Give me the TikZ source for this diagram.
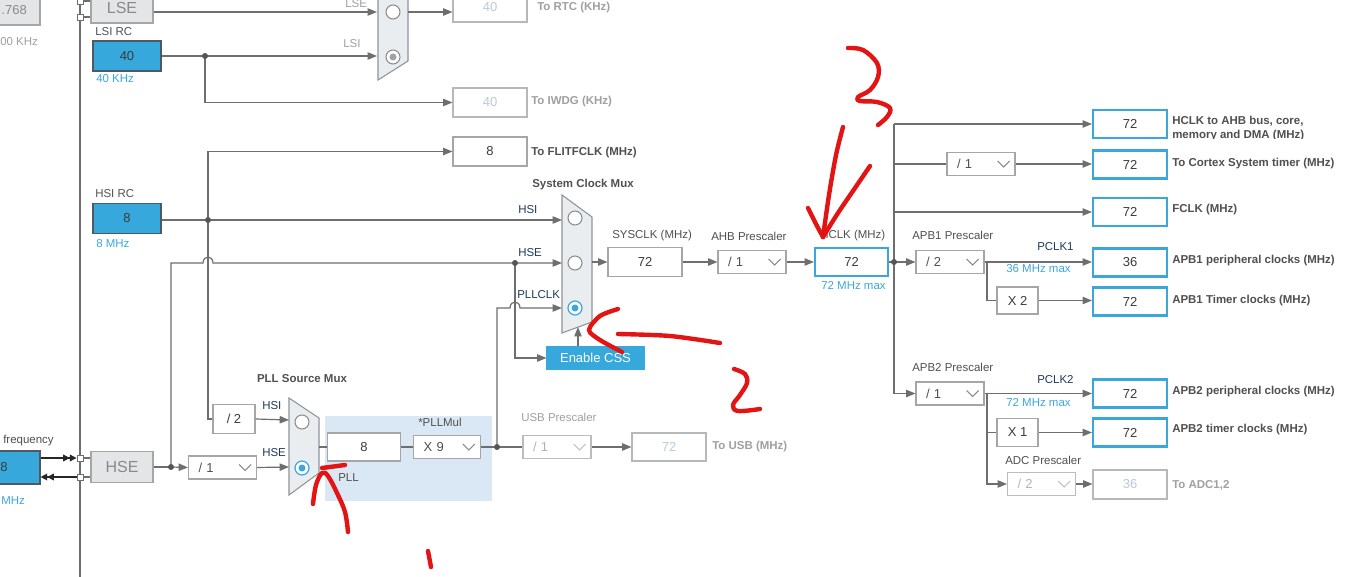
\documentclass[tikz,border=0pt]{standalone}
\usepackage{fontspec}
\setmainfont{Liberation Sans}
\usetikzlibrary{arrows.meta,calc}
\definecolor{wirec}{HTML}{6E6E6E}
\definecolor{boxc}{HTML}{A6A6A6}
\definecolor{valc}{HTML}{3C3C3C}
\definecolor{labc}{HTML}{505050}
\definecolor{navyc}{HTML}{1F3A5C}
\definecolor{disc}{HTML}{A0A0A0}
\definecolor{disval}{HTML}{B8CADC}
\definecolor{bluet}{HTML}{3AA8DF}
\definecolor{bluef}{HTML}{36A8DC}
\definecolor{blueb}{HTML}{3BA6DA}
\definecolor{rcb}{HTML}{4D5A63}
\definecolor{muxf}{HTML}{E9EDF0}
\definecolor{muxb}{HTML}{8E959A}
\definecolor{grayf}{HTML}{E3E5E6}
\definecolor{grayt}{HTML}{8A8A8A}
\definecolor{pllf}{HTML}{DAE7F4}
\definecolor{redc}{HTML}{E31414}
\definecolor{dotc}{HTML}{555555}
\definecolor{chevc}{HTML}{8A8A8A}
\definecolor{chevd}{HTML}{C4C4C4}
\newcommand\lblfont{\fontsize{8.6pt}{10pt}\selectfont}
\newcommand\valfont{\fontsize{9.75pt}{11pt}\selectfont}
\newcommand\bigfont{\fontsize{12pt}{14pt}\selectfont}
\newcommand\chev[2][chevc]{\draw[draw=#1,line width=0.8pt] ([shift={(-18,-3)}]#2.east) -- ++(6,6) -- ++(6,-6);}
\begin{document}
\begin{tikzpicture}[x=0.75pt,y=-0.75pt,
  wire/.style={draw=wirec,line width=0.9pt},
  arr/.style={wire,-{Triangle[length=7pt,width=5.5pt]}},
  dbl/.style={draw=black!85,line width=0.9pt,-{Triangle[length=5pt,width=5pt]Triangle[length=5pt,width=5pt]}},
  sz/.style 2 args={minimum width=#1*0.75pt,minimum height=#2*0.75pt},
  box/.style={draw=boxc,fill=white,line width=0.8pt,inner sep=0pt,font=\valfont,text=valc},
  dbox/.style={box,draw=boxc!80,text=disval},
  bbox/.style={box,draw=blueb,line width=1.6pt},
  rcbox/.style={box,fill=bluef,draw=rcb},
  gbox/.style={box,fill=grayf,text=grayt,font=\bigfont},
  dd/.style={box,text=labc,text width=36pt,inner xsep=7.5pt,align=left,minimum height=17.25pt},
  ddd/.style={dd,draw=boxc!75,text=disc!80},
  sq/.style={draw=wirec,fill=white,line width=0.7pt,minimum size=4.5pt,inner sep=0pt},
  lab/.style={inner sep=0pt,font=\lblfont,text=labc,anchor=west},
  blab/.style={lab,font=\lblfont\bfseries},
  nlab/.style={lab,text=navyc},
  dlab/.style={lab,text=disc},
  dblab/.style={blab,text=disc},
  btext/.style={lab,text=bluet},
  mux/.style={fill=muxf,draw=muxb,line width=0.8pt},
  rad/.style={draw=grayt,fill=white,line width=0.8pt},
  radb/.style={draw=bluet,fill=white,line width=0.9pt},
  pen/.style={draw=redc,line width=3.3pt,line cap=round,line join=round}]
\clip (0,0) rectangle (1353,577);
\fill[white] (0,0) rectangle (1353,577);

% ---------- left edge ----------
\draw[fill=grayf,draw=boxc,line width=0.8pt] (-30,-5) rectangle (40,25);
\node[lab,font=\valfont,text=grayt,anchor=east] (lsein) at (27,10) {.768};
\node[lab,text=disc] (lserange) at (0,42) {00 KHz};
\draw[wire] (80,-5) -- (80,582);
\node[sq] (sq3) at (80,1) {};
\node[sq] (sq4) at (80,17) {};
\node[gbox,sz={62}{30}] (lse) at (122,8) {LSE};
\draw[wire] (sq3.east) -- (sq3.east -| lse.west);
\draw[wire] (sq4.east) -- (sq4.east -| lse.west);

% ---------- LSI / RTC ----------
\node[lab] (lsilab) at (95,32) {LSI RC};
\node[rcbox,sz={68}{30}] (lsi) at (127,56) {40};
\node[btext] (lsif) at (96,79) {40 KHz};
\draw[mux] (378,-30) -- (408,-10) -- (408,61) -- (378,80) -- cycle;
\draw[rad] (393,12) circle[radius=7];
\draw[rad] (393,57) circle[radius=7];
\fill[grayt!80] (393,57) circle[radius=3.5];
\coordinate (rtcin1) at (377,12);
\coordinate (rtcin2) at (377,56);
\coordinate (rtcout) at (408,12);
\coordinate (lsidot) at (205,56);
\node[dlab] (lselab) at (345,4) {LSE};
\node[dlab] (lsilab2) at (343,44) {LSI};
\node[dbox,sz={74}{30}] (rtc) at (490,7) {40};
\node[dblab] (rtclab) at (537,8) {To RTC (KHz)};
\node[dbox,sz={74}{29}] (iwdg) at (490,102.5) {40};
\node[dblab] (iwdglab) at (531,102) {To IWDG (KHz)};
\draw[arr] (lse.east |- rtcin1) -- (rtcin1);
\draw[arr] (lsi.east) -- (rtcin2);
\draw[arr] (lsidot) |- (iwdg.west);
\draw[arr] (rtcout) -- (rtcout -| rtc.west);
\fill[dotc] (lsidot) circle[radius=3];

% ---------- HSI / FLITFCLK ----------
\node[box,sz={74}{29}] (flit) at (490,151.5) {8};
\node[blab] (flitlab) at (531,153) {To FLITFCLK (MHz)};
\node[lab] (hsilab) at (95,194) {HSI RC};
\node[rcbox,sz={68}{30}] (hsi) at (127,218.5) {8};
\node[btext] (hsif) at (96,244) {8 MHz};
\coordinate (hsidot) at (208,220);

% ---------- System clock mux ----------
\node[blab,anchor=center] (smtitle) at (583,185) {System Clock Mux};
\draw[mux] (562,195) -- (592,217) -- (592,322) -- (562,333) -- cycle;
\draw[rad] (575,218) circle[radius=7];
\draw[rad] (575,263) circle[radius=7];
\draw[radb] (575,308) circle[radius=7];
\fill[bluet] (575,308) circle[radius=3.5];
\coordinate (smin1) at (562,220);
\coordinate (smin2) at (562,263);
\coordinate (smin3) at (562,308);
\coordinate (smout) at (592,262);
\coordinate (smbot) at (578,327);
\coordinate (ssedot) at (515,263);
\node[nlab] (l1) at (518,210) {HSI};
\node[nlab] (l2) at (518,253) {HSE};
\node[nlab] (l3) at (517,295) {PLLCLK};
\node[box,fill=bluef,draw=bluef,text=white,sz={97}{22},font=\valfont] (css) at (595.5,358) {Enable CSS};

\node[lab] (sysl) at (612,236) {SYSCLK (MHz)};
\node[box,sz={74}{29}] (sysclk) at (645,262) {72};
\node[lab] (ahbl) at (711,236) {AHB Prescaler};
\node[dd] (ahb) at (752,262) {/ 1};
\chev{ahb}
\node[lab] (hclkl) at (820,236) {HCLK (MHz)};
\node[bbox,sz={73}{28}] (hclk) at (851.5,262) {72};
\node[btext] (hclkm) at (821,286) {72 MHz max};
\coordinate (hdot) at (894,262);

% ---------- right block ----------
\node[bbox,sz={74}{28}] (o1) at (1130,124) {72};
\begin{scope}
\clip (1168,100) rectangle (1353,139);
\node[blab] (o1l1) at (1172,121) {HCLK to AHB bus, core,};
\node[blab] (o1l2) at (1172,136) {memory and DMA (MHz)};
\end{scope}
\node[dd] (cdd) at (981,164) {/ 1};
\chev{cdd}
\node[bbox,sz={74}{28}] (o2) at (1130,164.5) {72};
\node[blab] (o2l) at (1172,164) {To Cortex System timer (MHz)};
\node[bbox,sz={74}{28}] (o3) at (1130,212) {72};
\node[blab] (o3l) at (1172,210) {FCLK (MHz)};
\node[lab] (apb1l) at (912,235) {APB1 Prescaler};
\node[dd] (apb1) at (950,262) {/ 2};
\chev{apb1}
\node[nlab] (pc1) at (1037,247) {PCLK1};
\node[btext] (pc1m) at (1006,269) {36 MHz max};
\node[bbox,sz={74}{28}] (o4) at (1130,262.5) {36};
\node[blab] (o4l) at (1172,261) {APB1 peripheral clocks (MHz)};
\node[box,sz={41}{27}] (x2) at (1017.5,300.5) {X 2};
\node[bbox,sz={74}{28}] (o5) at (1130,301.5) {72};
\node[blab] (o5l) at (1172,301) {APB1 Timer clocks (MHz)};
\coordinate (a1br) at (987,262);

\node[lab] (apb2l) at (912,367) {APB2 Prescaler};
\node[dd] (apb2) at (950,393.5) {/ 1};
\chev{apb2}
\node[nlab] (pc2) at (1037,380) {PCLK2};
\node[btext] (pc2m) at (1006,403) {72 MHz max};
\node[bbox,sz={74}{28}] (o6) at (1130,393.5) {72};
\node[blab] (o6l) at (1172,392) {APB2 peripheral clocks (MHz)};
\node[box,sz={41}{28}] (x1) at (1017.5,432.5) {X 1};
\node[bbox,sz={74}{28}] (o7) at (1130,432.5) {72};
\node[blab] (o7l) at (1172,430) {APB2 timer clocks (MHz)};
\node[lab] (adcl) at (1005,460) {ADC Prescaler};
\node[ddd] (adcdd) at (1041.5,484) {/ 2};
\chev[chevd]{adcdd}
\node[dbox,sz={74}{29}] (adc) at (1130,484.5) {36};
\node[dblab] (adcll) at (1172,485) {To ADC1,2};
\coordinate (a2br) at (987,393.5);

% ---------- PLL ----------
\fill[pllf] (325,416) rectangle (492,501);
\node[blab,anchor=center] (pmtitle) at (302,379) {PLL Source Mux};
\draw[mux] (289,398) -- (319,418) -- (319,473) -- (289,495) -- cycle;
\draw[rad] (302,422) circle[radius=7];
\draw[radb] (302,468) circle[radius=7];
\fill[bluet] (302,468) circle[radius=3.5];
\coordinate (pmin1) at (289,420);
\coordinate (pmin2) at (289,467);
\coordinate (pmout) at (319,447);
\node[box,sz={42}{29}] (div2) at (234,419) {/ 2};
\node[nlab] (ph1) at (262,406) {HSI};
\node[nlab] (ph2) at (262,453) {HSE};
\node[dd] (div1) at (222.5,467.5) {/ 1};
\chev{div1}
\node[box,sz={73}{28}] (pllin) at (364,447) {8};
\node[lab] (pllmull) at (418,422) {*PLLMul};
\node[dd,minimum height=17.25pt,text width=35pt] (mul) at (447,447) {X 9};
\chev{mul}
\node[lab] (plll) at (338,478) {PLL};
\coordinate (plldot) at (497,447);
\node[dlab] (usbl) at (521,417) {USB Prescaler};
\node[ddd] (usbdd) at (557,447) {/ 1};
\chev[chevd]{usbdd}
\node[dbox,sz={74}{28}] (usb) at (669,447) {72};
\node[dblab] (usbll) at (712,447) {To USB (MHz)};

% ---------- HSE input ----------
\node[lab] (inl) at (3,441) {frequency};
\node[rcbox,sz={73}{33}] (inbox) at (3.5,467.5) {};
\node[lab,font=\valfont,text=valc] (inval) at (0,467.5) {8};
\node[btext] (inr) at (1,501) {MHz};
\node[sq] (sq1) at (80,458) {};
\node[sq] (sq2) at (80,477) {};
\node[gbox,sz={62}{31}] (hse) at (122,467) {HSE};
\coordinate (hsedot) at (171,467);
\draw[dbl] (inbox.east |- sq1) -- (sq1.west);
\draw[dbl] (sq2.west) -- (inbox.east |- sq2);
\draw[wire] (sq1.east) -- (sq1.east -| hse.west);
\draw[wire] (sq2.east) -- (sq2.east -| hse.west);

% ---------- connectors ----------
\draw[arr] (hsi.east |- hsidot) -- (smin1);
\draw[arr] (div2.west) -| (hsidot) |- (flit.west);
\draw[arr] (hsedot) |- (203,263) .. controls (203,255) and (213,255) .. (213,263) -- (smin2);
\draw[arr] (plldot) |- (510,308) .. controls (510,300) and (520,300) .. (520,308) -- (smin3);
\draw[arr] (ssedot) |- (css.west);
\draw[arr] (css.north -| smbot) -- (smbot);
\draw[arr] (smout) -- (sysclk.west);
\draw[arr] (sysclk.east) -- (ahb.west);
\draw[arr] (ahb.east) -- (hclk.west);
\draw[wire] (hclk.east) -- (hdot);
\draw[arr] (hdot) -- (apb1.west);
\draw[wire] (hdot) -- (o1.west -| hdot);
\draw[arr] (o1.west -| hdot) -- (o1.west);
\draw[wire] (cdd.west -| hdot) -- (cdd.west);
\draw[arr] (cdd.east) -- (o2.west |- cdd.east);
\draw[arr] (o3.west -| hdot) -- (o3.west);
\draw[arr] (hdot) |- (apb2.west);
\draw[arr] (apb1.east) -- (o4.west |- apb1.east);
\draw[wire] (a1br) |- (x2.west);
\draw[arr] (x2.east) -- (o5.west |- x2.east);
\draw[arr] (apb2.east) -- (o6.west);
\draw[wire] (a2br) |- (x1.west);
\draw[arr] (x1.east) -- (o7.west);
\draw[arr] (a2br) |- (adcdd.west);
\draw[arr] (adcdd.east) -- (adc.west |- adcdd.east);
\draw[wire] (hse.east) -- (hsedot);
\draw[arr] (hsedot) -- (div1.west);
\draw[arr] (div1.east) -- (pmin2);
\draw[arr] (div2.east) -- (pmin1);
\draw[wire] (pmout) -- (pllin.west);
\draw[wire] (pllin.east) -- (mul.west);
\draw[wire] (mul.east) -- (plldot);
\draw[wire] (plldot) -- (usbdd.west);
\draw[arr] (usbdd.east) -- (usb.west);
\fill[dotc] (hsidot) circle[radius=3];
\fill[dotc] (ssedot) circle[radius=3];
\fill[dotc] (hdot) circle[radius=3];
\fill[dotc] (hsedot) circle[radius=3];
\fill[dotc] (plldot) circle[radius=3];

% ---------- red annotations ----------
\draw[pen] plot[smooth,tension=0.6] coordinates {(848,48) (863,50) (877,63) (878,77) (870,90) (858,97) (860,101) (877,102) (890,108) (887,117) (878,125)};
\draw[pen] plot[smooth] coordinates {(843,127) (836,155) (829,195) (823,237)};
\draw[pen] plot[smooth] coordinates {(808,208) (816,224) (823,237)};
\draw[pen] plot[smooth] coordinates {(870,166) (855,188) (838,213) (823,237)};
\draw[pen] plot[smooth,tension=0.5] coordinates {(618,309) (600,316) (589,330) (600,340) (622,352)};
\draw[pen] plot[smooth] coordinates {(618,334) (670,336) (720,343)};
\draw[pen] plot[smooth,tension=0.6] coordinates {(734,369) (745,374) (747,383) (740,395) (733,405) (738,411) (760,409)};
\draw[pen] (322,468) -- (345,465);
\draw[pen] plot[smooth,tension=0.6] coordinates {(313,504) (316,485) (322,473) (328,476) (337,493) (345,512) (348,532)};
\draw[pen] (428,551) -- (431,567);
\end{tikzpicture}
\end{document}
